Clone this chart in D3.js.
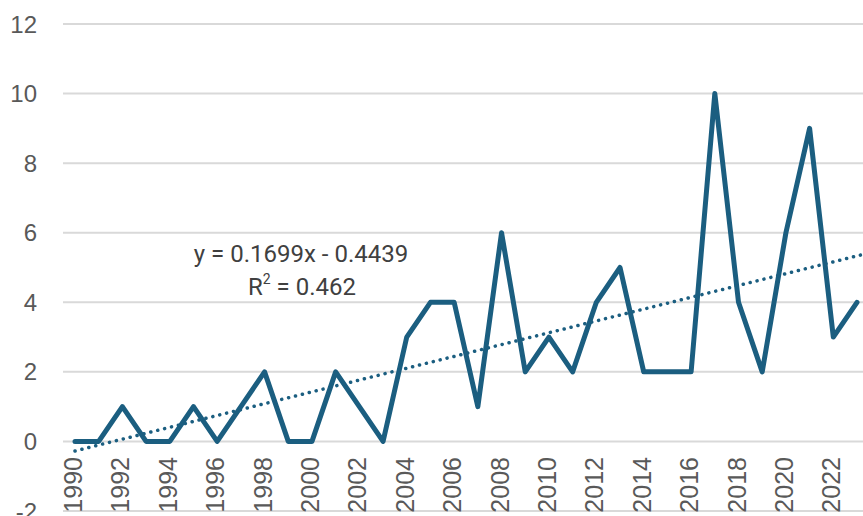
<!DOCTYPE html>
<html><head><meta charset="utf-8">
<script src="https://cdn.jsdelivr.net/npm/d3@7"></script>
<style>body{margin:0;background:#fff}svg{display:block}</style>
</head><body>
<script>
const years = d3.range(1990, 2024);
const values = [0,0,1,0,0,1,0,1,2,0,0,2,1,0,3,4,4,1,6,2,3,2,4,5,2,2,2,10,4,2,6,9,3,4];
const yTicks = [-2,0,2,4,6,8,10,12];
const xTickLabels = years.filter((d,i)=>i%2===0);
const slope = 0.1699, intercept = -0.4439, r2 = "0.462";

const W=863,H=516;
const svg=d3.select("body").append("svg").attr("width",W).attr("height",H);
const x=d3.scalePoint().domain(years).range([75,857]);
const y=d3.scaleLinear().domain([-2,12]).range([511,24]);

const grid=svg.append("g");
grid.selectAll("line").data(yTicks).join("line")
  .attr("x1",63).attr("x2",W).attr("y1",d=>y(d)).attr("y2",d=>y(d))
  .attr("stroke","#d9d9d9").attr("stroke-width",2);

svg.append("g").selectAll("text").data(yTicks).join("text")
  .attr("x",37).attr("y",d=>y(d)).attr("dy","0.36em").attr("text-anchor","end")
  .attr("font-family","Liberation Sans, Arial, sans-serif").attr("font-size",24).attr("fill","#595959")
  .text(d=>d);

svg.append("g").selectAll("text").data(xTickLabels).join("text")
  .attr("transform",d=>`translate(${x(d)-2},457) rotate(-90)`)
  .attr("dy","0.36em").attr("text-anchor","end")
  .attr("font-family","Liberation Sans, Arial, sans-serif").attr("font-size",25).attr("fill","#595959")
  .text(d=>d);

const line=d3.line().x((d,i)=>x(years[i])).y(d=>y(d));
svg.append("path").datum(values).attr("d",line).attr("fill","none")
  .attr("stroke","#1b5e80").attr("stroke-width",5).attr("stroke-linejoin","round").attr("stroke-linecap","round");

const tStart=1, tEnd=34.3;
const x0=x(1990), step=x.step();
svg.append("line")
  .attr("x1",x0+(tStart-1)*step).attr("y1",y(slope*tStart+intercept))
  .attr("x2",x0+(tEnd-1)*step).attr("y2",y(slope*tEnd+intercept))
  .attr("stroke","#1b5e80").attr("stroke-width",3.5).attr("stroke-dasharray","0.1,7").attr("stroke-linecap","round");

const ann=svg.append("g").attr("font-family","Roboto, sans-serif").attr("font-size",24).attr("fill","#404040").attr("text-anchor","middle");
ann.append("text").attr("x",301).attr("y",262).text(`y = ${slope}x - ${Math.abs(intercept)}`);
const t2=ann.append("text").attr("x",302).attr("y",295);
t2.append("tspan").text("R");
t2.append("tspan").attr("font-size",14).attr("dy",-11).text("2");
t2.append("tspan").attr("dy",11).text(` = ${r2}`);
</script>
</body></html>
